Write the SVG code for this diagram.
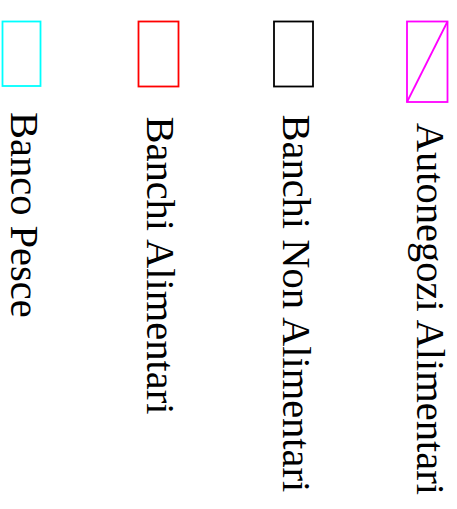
<svg xmlns="http://www.w3.org/2000/svg" width="457" height="509" viewBox="0 0 457 509">
<style>
.box{fill:none;stroke-width:1.8}
.lbl{font-family:"Liberation Serif","Times New Roman",serif;font-size:40.5px;fill:#000}
</style>
<rect width="457" height="509" fill="#fff"/>
<g id="banco-pesce">
<rect class="box" x="2.5" y="21.5" width="38" height="64.5" stroke="#00ffff"/>
<text class="lbl" transform="translate(10.5,112) rotate(90)">Banco Pesce</text>
</g>
<g id="banchi-alimentari">
<rect class="box" x="138.5" y="21.5" width="40" height="65" stroke="#ff0000"/>
<text class="lbl" transform="translate(146.5,116.4) rotate(90)">Banchi Alimentari</text>
</g>
<g id="banchi-non-alimentari">
<rect class="box" x="274" y="21.5" width="39" height="65" stroke="#000000"/>
<text class="lbl" transform="translate(283,114.4) rotate(90)">Banchi Non Alimentari</text>
</g>
<g id="autonegozi-alimentari">
<rect class="box" x="407" y="21.5" width="40.5" height="80.5" stroke="#ff00ff"/>
<line x1="407" y1="102" x2="447.5" y2="21.5" stroke="#ff00ff" stroke-width="1.8"/>
<text class="lbl" transform="translate(416.5,122.7) rotate(90)">Autonegozi Alimentari</text>
</g>
<g id="connectors"/>
</svg>
